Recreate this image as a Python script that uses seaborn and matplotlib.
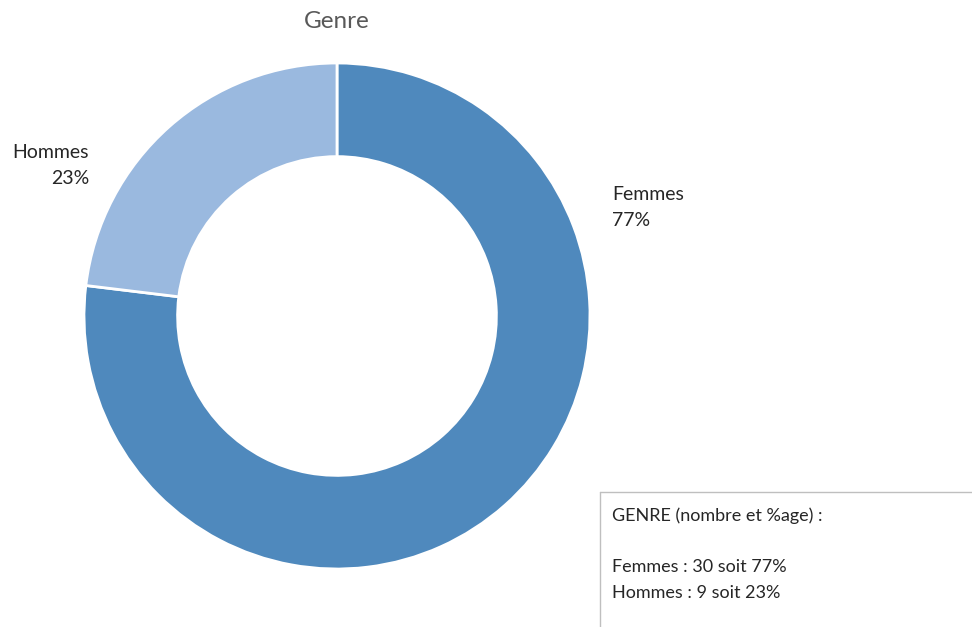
import matplotlib
matplotlib.use("Agg")
import matplotlib.pyplot as plt
import seaborn as sns
from matplotlib.lines import Line2D

# Data
categories = ["Femmes", "Hommes"]
counts = [30, 9]
colors = ["#4F89BD", "#9AB9DF"]

total = sum(counts)
pcts = [round(c / total * 100) for c in counts]

sns.set_theme(style="white")
plt.rcParams['font.family'] = ['Lato', 'DejaVu Sans']

fig = plt.figure(figsize=(9.72, 6.27), dpi=100)
W, H = 972, 627
cx, cy, R = 337, 316, 253
ax = fig.add_axes([(cx - R) / W, (H - cy - R) / H, 2 * R / W, 2 * R / H])

ax.pie(counts, colors=colors, startangle=90, counterclock=False, radius=1,
       wedgeprops=dict(width=0.37, edgecolor='white', linewidth=2))
ax.set_xlim(-1, 1)
ax.set_ylim(-1, 1)
ax.set_aspect('equal')
ax.axis('off')

# Data labels
ax.text(1.087, 0.43, f"{categories[0]}\n{pcts[0]}%", ha='left', va='center',
        fontsize=14, color='#262626', linespacing=1.65, clip_on=False)
ax.text(-0.98, 0.595, f"{categories[1]}\n{pcts[1]}%", ha='right', va='center',
        multialignment='right', fontsize=14, color='#262626', linespacing=1.65,
        clip_on=False)

# Title
fig.text(cx / W, 1 - 22 / H, "Genre", ha='center', va='center',
         fontsize=17.5, color='#595959')

# Summary box (top and left border only, running off the edge)
x0, y0 = 600 / W, 1 - 492 / H
fig.add_artist(Line2D([x0, 1], [y0, y0], transform=fig.transFigure,
                      color='#BFBFBF', linewidth=1))
fig.add_artist(Line2D([x0, x0], [y0, 0], transform=fig.transFigure,
                      color='#BFBFBF', linewidth=1))
box_lines = ["GENRE (nombre et %age) :", ""]
box_lines += [f"{c} : {n} soit {p}%" for c, n, p in zip(categories, counts, pcts)]
fig.text(612 / W, 1 - 507 / H, "\n".join(box_lines), ha='left', va='top',
         fontsize=13, color='#262626', linespacing=1.75)

fig.savefig("out.png", dpi=100)
